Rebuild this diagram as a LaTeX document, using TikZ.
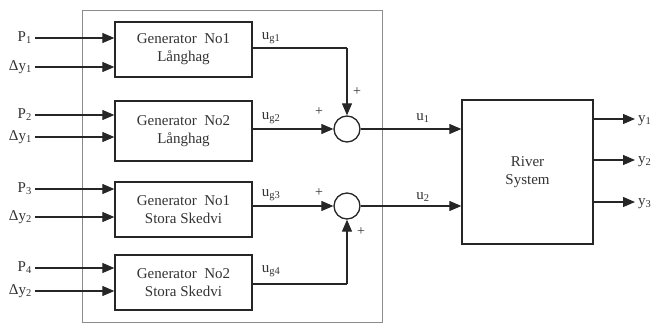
\documentclass[tikz,border=0pt]{standalone}
\usepackage{fontspec}
\setmainfont{Liberation Serif}
\usetikzlibrary{arrows.meta,calc}
\begin{document}
\begin{tikzpicture}[x=1pt,y=-1pt,
  every node/.style={font=\fontsize{15}{18}\selectfont, text=black!80},
  genbox/.style={draw=black!85, line width=1.3pt, minimum width=137pt, align=center, inner sep=0pt},
  sumc/.style={draw=black!85, line width=1.3pt, circle, minimum size=26pt, inner sep=0pt},
  sig/.style={draw=black!85, line width=1.2pt, -{Triangle[length=12pt,width=10pt]}},
  wire/.style={draw=black!85, line width=1.2pt},
  lbl/.style={inner sep=0pt},
  pl/.style={inner sep=0pt, font=\fontsize{14}{14}\selectfont}]
\useasboundingbox (0,0) rectangle (656,324);
\draw[black!45, line width=0.8pt] (82,10) rectangle (382,322);
% generator boxes
\node[genbox, minimum height=55pt] (g1) at (183.5,49.5) {Generator\ \ No1\\Långhag};
\node[genbox, minimum height=60pt] (g2) at (183.5,131) {Generator\ \ No2\\Långhag};
\node[genbox, minimum height=55pt] (g3) at (183.5,209.5) {Generator\ \ No1\\Stora Skedvi};
\node[genbox, minimum height=55pt] (g4) at (183.5,282.5) {Generator\ \ No2\\Stora Skedvi};
% inputs
\foreach \n/\yy/\t in {p1/38/P\textsubscript{1}, d1/67/Δy\textsubscript{1}, p2/115/P\textsubscript{2}, d2/137/Δy\textsubscript{1}, p3/189/P\textsubscript{3}, d3/217/Δy\textsubscript{2}, p4/268/P\textsubscript{4}, d4/291/Δy\textsubscript{2}}{
  \node[lbl, anchor=east] (\n) at (32,\yy) {\t};
  \coordinate (\n e) at (35,\yy);
}
\draw[sig] (p1e) -- (p1e -| g1.west);
\draw[sig] (d1e) -- (d1e -| g1.west);
\draw[sig] (p2e) -- (p2e -| g2.west);
\draw[sig] (d2e) -- (d2e -| g2.west);
\draw[sig] (p3e) -- (p3e -| g3.west);
\draw[sig] (d3e) -- (d3e -| g3.west);
\draw[sig] (p4e) -- (p4e -| g4.west);
\draw[sig] (d4e) -- (d4e -| g4.west);
% summing junctions
\node[sumc] (s1) at (347,129) {};
\node[sumc] (s2) at (347,206) {};
\coordinate (c1) at (347,48);
\coordinate (c4) at (347,284);
\draw[wire] (g1.east |- c1) -- (c1);
\draw[sig] (c1) -- (s1.north);
\draw[sig] (g2.east |- s1) -- (s1.west);
\draw[sig] (g3.east |- s2) -- (s2.west);
\draw[wire] (g4.east |- c4) -- (c4);
\draw[sig] (c4) -- (s2.south);
\node[lbl] (lg1) at (271,38) {u\textsubscript{g1}};
\node[lbl] (lg2) at (271,118) {u\textsubscript{g2}};
\node[lbl] (lg3) at (271,195) {u\textsubscript{g3}};
\node[lbl] (lg4) at (271,271) {u\textsubscript{g4}};
\node[pl] (pa) at (357,92) {+};
\node[pl] (pb) at (319,112) {+};
\node[pl] (pc) at (319,193) {+};
\node[pl] (pd) at (361,232) {+};
% river system
\node[draw=black!85, line width=1.3pt, minimum width=131pt, minimum height=144pt, align=center, inner sep=0pt] (rs) at (527.5,172) {River\\System};
\draw[sig] (s1.east) -- (s1.east -| rs.west);
\draw[sig] (s2.east) -- (s2.east -| rs.west);
\node[lbl] (u1) at (423,118) {u\textsubscript{1}};
\node[lbl] (u2) at (423,197) {u\textsubscript{2}};
% outputs
\foreach \n/\yy/\t in {y1/119/y\textsubscript{1}, y2/160/y\textsubscript{2}, y3/202/y\textsubscript{3}}{
  \coordinate (\n s) at (593,\yy);
  \node[lbl, anchor=west] (\n) at (638,\yy+2) {\t};
  \draw[sig] (\n s -| rs.east) -- (635,\yy);
}
\end{tikzpicture}
\end{document}
